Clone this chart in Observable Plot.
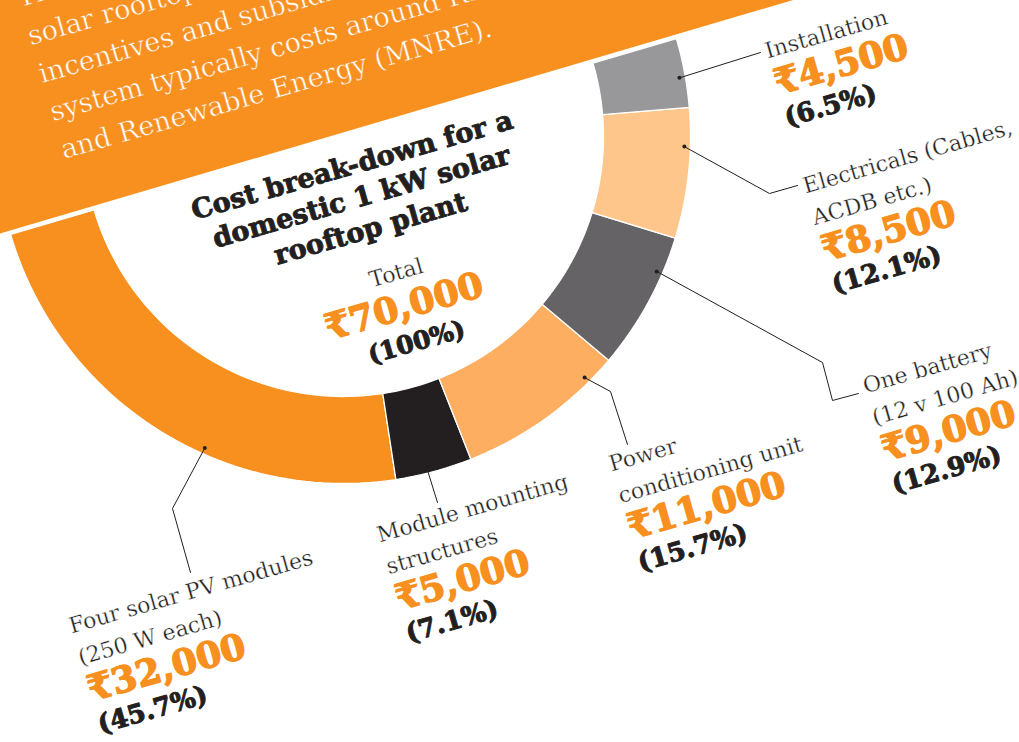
<!DOCTYPE html>
<html><head><meta charset="utf-8">
<script src="https://cdn.jsdelivr.net/npm/d3@7"></script>
<script src="https://cdn.jsdelivr.net/npm/@observablehq/plot@0.6"></script>
<style>
html,body{margin:0;padding:0;background:#fff;}
#chart{width:1019px;height:742px;overflow:hidden;position:relative;}
#chart svg{display:block;overflow:hidden;}
</style></head><body><div id="chart"></div>
<script>
// ---------------- data ----------------
const categories = ["Four solar PV modules", "Module mounting structures", "Power conditioning unit", "One battery", "Electricals", "Installation"];
const labelLines = [
  ["Four solar PV modules", "(250 W each)"],
  ["Module mounting", "structures"],
  ["Power", "conditioning unit"],
  ["One battery", "(12 v 100 Ah)"],
  ["Electricals (Cables,", "ACDB etc.)"],
  ["Installation"]
];
const costs = [32000, 5000, 11000, 9000, 8500, 4500];
const shares = [45.7, 7.1, 15.7, 12.9, 12.1, 6.5];
const totalCost = 70000;
const totalShare = 100;
const totalLabel = "Total";
const titleLines = ["Cost break-down for a", "domestic 1 kW solar", "rooftop plant"];
const introLines = [
  "The",
  "solar rooftop",
  "incentives and subsidies",
  "system typically costs around Rs",
  "and Renewable Energy (MNRE)."
];

// ---------------- layout & style ----------------
const W = 1019, H = 742;
const C = {x: 343, y: 136};        // centre of the half ring
const R_OUT = 347, R_IN = 260;
const ROT = -16.4;                 // rotation of the whole graphic (deg)
const TEXT_ROT = -16;
const sliceColors = ["#F7901E", "#231F20", "#FDAE61", "#656366", "#FEC68A", "#98979A"];
const ORANGE = "#F7901E", INK = "#231F20";
const rad = d => d * Math.PI / 180;
const u = {x: Math.cos(rad(ROT)), y: Math.sin(rad(ROT))};
const n = {x: -Math.sin(rad(ROT)), y: Math.cos(rad(ROT))};
const P = (b, du, dn) => ({x: b.x + du * u.x + dn * n.x, y: b.y + du * u.y + dn * n.y});
const polar = (a, r) => ({x: C.x + r * Math.cos(rad(a)), y: C.y + r * Math.sin(rad(a))});

// label anchors (start of first baseline) and leader geometry
const labelAnchor = [
  {x: 71, y: 633}, {x: 379, y: 542}, {x: 611, y: 471},
  {x: 865, y: 393}, {x: 805, y: 193}, {x: 767, y: 58}
];
const leaderLayout = [
  {a: 114, r: 341, path: [[172, 508], [190, 572]]},
  {a: 76, r: 330, path: [[437, 502]]},
  {a: 45, r: 341, path: [[610, 391], [627, 444]]},
  {a: 23.3, r: 341, path: [[822, 362], [832, 400], [858, 393]]},
  {a: 1.7, r: 341, path: [[769, 193], [797, 185]]},
  {a: -9.9, r: 341, path: [[760, 52]]}
];
const LINE = 33, VAL_GAP = 38, PCT_GAP = 33;

// ---------------- geometry from data ----------------
const start = 180 + ROT;
const cum = d3.cumsum(costs);
const slicePts = [];
categories.forEach((cat, i) => {
  const f0 = (cum[i] - costs[i]) / totalCost, f1 = cum[i] / totalCost;
  const a0 = start - f0 * 180, a1 = start - f1 * 180;
  const steps = Math.max(4, Math.ceil(Math.abs(a1 - a0) / 1.5));
  for (let k = 0; k <= steps; k++) { const p = polar(a0 + (a1 - a0) * k / steps, R_OUT); slicePts.push({cat, ...p}); }
  for (let k = steps; k >= 0; k--) { const p = polar(a0 + (a1 - a0) * k / steps, R_IN); slicePts.push({cat, ...p}); }
});

const bannerBase = P(C, 0, -4);
const bannerPts = [P(bannerBase, -600, 0), P(bannerBase, 900, 0), P(bannerBase, 900, -700), P(bannerBase, -600, -700)];

const leaderPts = [], dotPts = [];
categories.forEach((cat, i) => {
  const L = leaderLayout[i];
  const d = polar(L.a, L.r);
  dotPts.push({cat, ...d});
  leaderPts.push({cat, ...d});
  L.path.forEach(([x, y]) => leaderPts.push({cat, x, y}));
});

const fmt = d3.format(",");
const labelRows = [], valueRows = [], pctRows = [];
categories.forEach((cat, i) => {
  const b = labelAnchor[i];
  labelLines[i].forEach((t, j) => labelRows.push({text: t, ...P(b, 0, j * LINE)}));
  const last = (labelLines[i].length - 1) * LINE;
  valueRows.push({text: "₹" + fmt(costs[i]), ...P(b, 0, last + VAL_GAP)});
  pctRows.push({text: `(${shares[i]}%)`, ...P(b, 0, last + VAL_GAP + PCT_GAP)});
});
const titleRows = titleLines.map((t, j) => ({text: t, ...P(C, 0, 39 + j * LINE)}));
const totalRows = [{text: totalLabel, ...P(C, 12, 153)}];
const totalValRows = [{text: "₹" + fmt(totalCost), ...P(C, 10, 192)}];
const totalPctRows = [{text: `(${totalShare}%)`, ...P(C, 12, 226)}];
const introRows = introLines.map((t, j) => ({text: t, ...P({x: 19, y: 7}, 0, j * 39.5)}));

const serif = "'DejaVu Serif', serif";
const common = {x: "x", y: "y", text: "text", rotate: TEXT_ROT, lineAnchor: "bottom"};
const light = (bg) => ({fontFamily: serif, fill: INK, stroke: bg, strokeWidth: 0.3, paintOrder: "normal"});
const heavy = (col, w) => ({fontFamily: serif, fontWeight: "bold", fill: col, stroke: col, strokeWidth: w, strokeLinejoin: "round", paintOrder: "normal"});

const chart = Plot.plot({
  width: W, height: H, margin: 0,
  x: {domain: [0, W], range: [0, W], axis: null},
  y: {domain: [0, H], range: [0, H], axis: null},
  color: {domain: categories, range: sliceColors},
  style: {background: "#fff", overflow: "hidden"},
  marks: [
    Plot.line(bannerPts, {x: "x", y: "y", fill: ORANGE, stroke: "none", curve: "linear-closed"}),
    Plot.text(introRows, {...common, textAnchor: "start", fontFamily: serif, fontSize: 27, fill: "white", stroke: ORANGE, strokeWidth: 0.5, paintOrder: "normal"}),
    Plot.line(slicePts, {x: "x", y: "y", z: "cat", fill: "cat", stroke: "white", strokeWidth: 1.3, curve: "linear-closed"}),
    Plot.line(leaderPts, {x: "x", y: "y", z: "cat", stroke: INK, strokeWidth: 1}),
    Plot.dot(dotPts, {x: "x", y: "y", r: 2, fill: INK}),
    Plot.text(labelRows, {...common, textAnchor: "start", ...light("white"), fontSize: 22}),
    Plot.text(valueRows, {...common, textAnchor: "start", ...heavy(ORANGE, 1.4), fontSize: 36}),
    Plot.text(pctRows, {...common, textAnchor: "start", ...heavy(INK, 1), fontSize: 26}),
    Plot.text(titleRows, {...common, textAnchor: "middle", ...heavy(INK, 0.9), fontSize: 27}),
    Plot.text(totalRows, {...common, textAnchor: "middle", ...light("white"), fontSize: 22}),
    Plot.text(totalValRows, {...common, textAnchor: "middle", ...heavy(ORANGE, 1.4), fontSize: 36}),
    Plot.text(totalPctRows, {...common, textAnchor: "middle", ...heavy(INK, 1), fontSize: 25})
  ]
});
document.getElementById("chart").appendChild(chart);
</script></body></html>
